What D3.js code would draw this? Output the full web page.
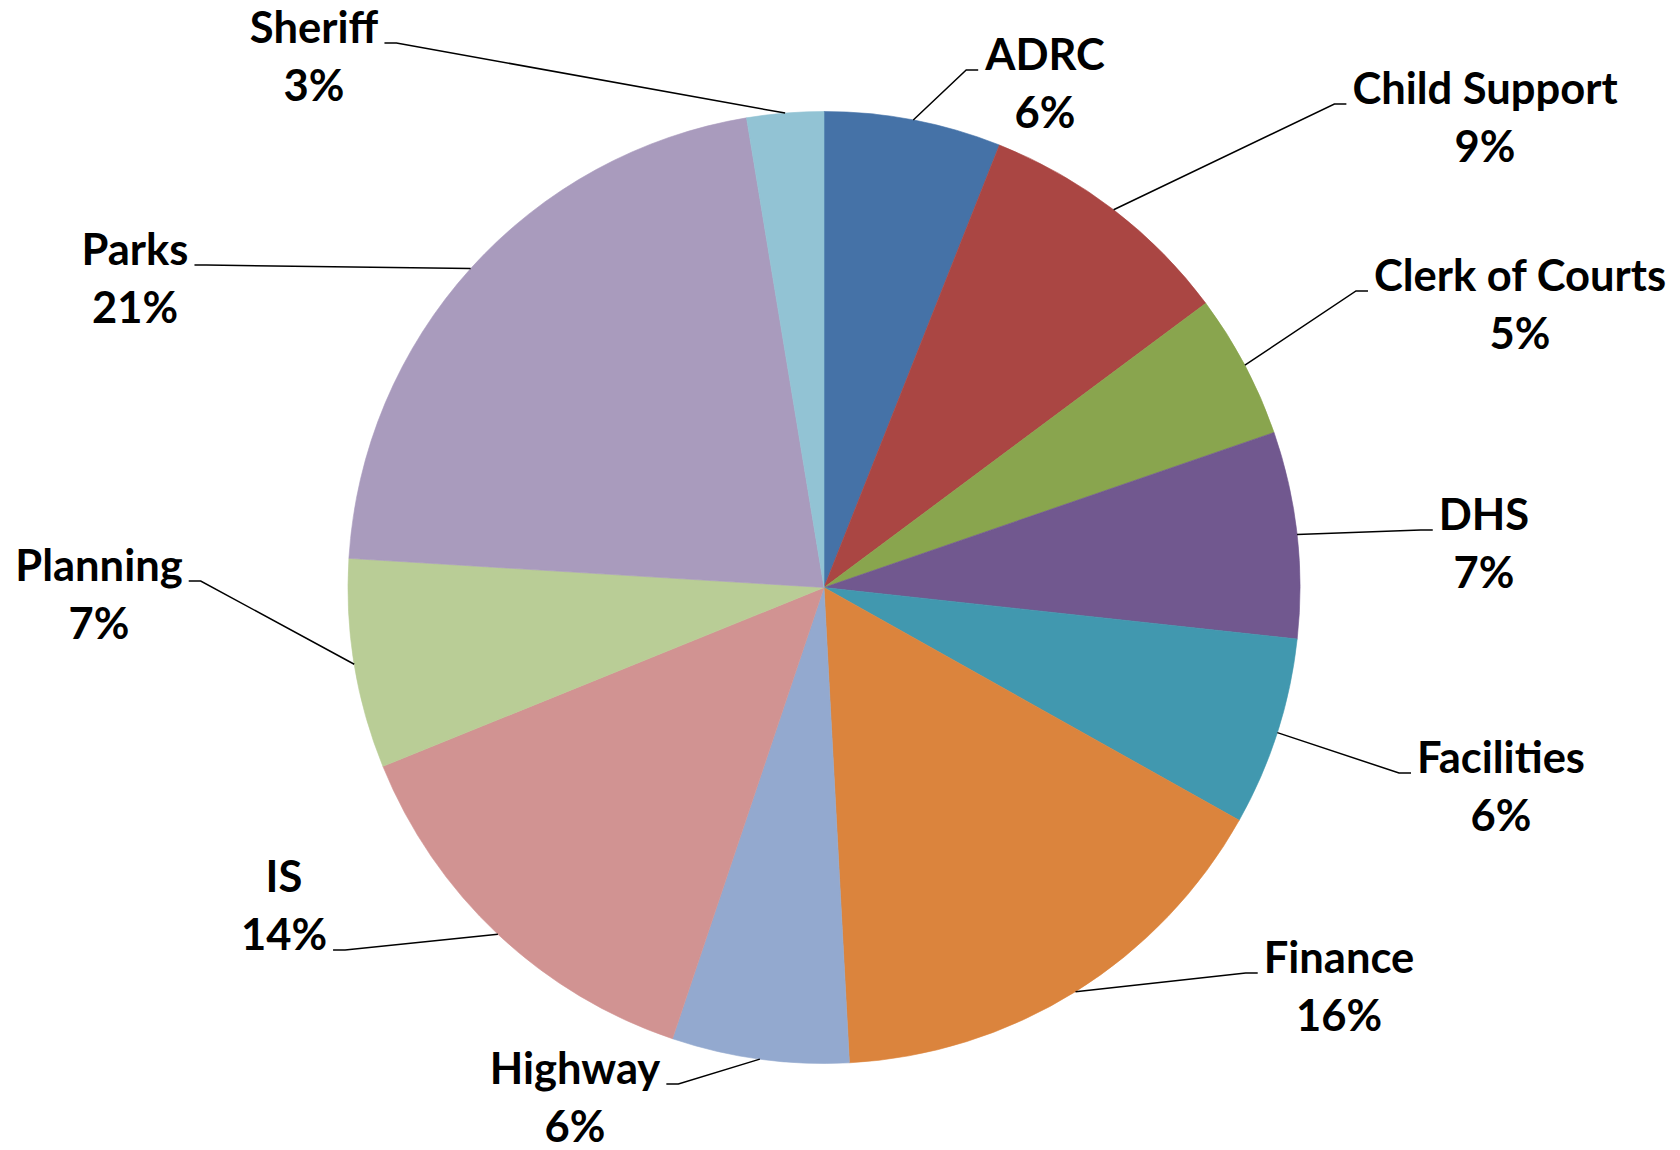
<!DOCTYPE html>
<html>
<head>
<meta charset="utf-8">
<script src="https://cdn.jsdelivr.net/npm/d3@7"></script>
<style>
  html, body { margin: 0; padding: 0; background: #ffffff; }
  svg { display: block; }
  .lbl { font-family: Lato, "Open Sans", "Liberation Sans", sans-serif; font-weight: 700; font-size: 43.5px; fill: #000; }
</style>
</head>
<body>
<svg id="chart" width="1680" height="1150"></svg>
<script>
// Department shares of the total, clockwise from 12 o'clock
const departments = ["ADRC", "Child Support", "Clerk of Courts", "DHS", "Facilities", "Finance",
                     "Highway", "IS", "Planning", "Parks", "Sheriff"];
const shares = [6.0, 8.8, 4.9, 7.0, 6.4, 16.0, 6.0, 13.7, 7.1, 21.4, 2.6];
const colors = ["#4572A7", "#AA4643", "#89A54E", "#71588F", "#4198AF", "#DB843D",
                "#93A9CF", "#D19392", "#B9CD96", "#A99BBD", "#92C3D4"];

// Label placement: text centre x, baseline of first line, which side of the
// text the leader attaches to, and which line it attaches at
const labelLayout = [
  { x: 1045, y: 70,   side: "left",  line: 0 },
  { x: 1485, y: 104,  side: "left",  line: 0 },
  { x: 1520, y: 291,  side: "left",  line: 0 },
  { x: 1484, y: 530,  side: "left",  line: 0 },
  { x: 1501, y: 773,  side: "left",  line: 0 },
  { x: 1339, y: 973,  side: "left",  line: 0 },
  { x: 575,  y: 1084, side: "right", line: 0 },
  { x: 284,  y: 892,  side: "right", line: 1 },
  { x: 99,   y: 581,  side: "right", line: 0 },
  { x: 135,  y: 265,  side: "right", line: 0 },
  { x: 314,  y: 43,   side: "right", line: 0 }
];

const cx = 824, cy = 587.5, radius = 476;
const lineGap = 58, gap = 6, elbow = 12;

const svg = d3.select("#chart");
const g = svg.append("g").attr("transform", `translate(${cx},${cy})`);

const total = d3.sum(shares);
const pct = d3.format(".0%");

const pie = d3.pie().sort(null).value(d => d.value).startAngle(0).endAngle(2 * Math.PI);
const arcs = pie(departments.map((name, i) => ({ name, value: shares[i], color: colors[i], layout: labelLayout[i] })));

const arc = d3.arc().innerRadius(0).outerRadius(radius);
const rim = d3.arc().innerRadius(radius).outerRadius(radius);

g.selectAll("path.slice")
  .data(arcs)
  .join("path")
  .attr("class", "slice")
  .attr("d", arc)
  .attr("fill", d => d.data.color)
  .attr("stroke", d => d.data.color)
  .attr("stroke-width", 0.6);

// Labels (two lines: name and share)
const labels = svg.append("g");
const leaders = svg.append("g");

arcs.forEach(d => {
  const L = d.data.layout;
  const t = labels.append("text").attr("class", "lbl").attr("text-anchor", "middle");
  t.append("tspan").attr("x", L.x).attr("y", L.y).text(d.data.name);
  t.append("tspan").attr("x", L.x).attr("y", L.y + lineGap).text(pct(d.data.value / total));

  const box = t.node().getBBox();
  const ay = L.y + L.line * lineGap;
  let ex, bx;
  if (L.side === "left") { ex = box.x - gap; bx = ex - elbow; }
  else { ex = box.x + box.width + gap; bx = ex + elbow; }

  const [px, py] = rim.centroid(d);
  leaders.append("path")
    .attr("d", d3.line()([[cx + px, cy + py], [bx, ay], [ex, ay]]))
    .attr("fill", "none")
    .attr("stroke", "#000")
    .attr("stroke-width", 1.5);
});
</script>
</body>
</html>
